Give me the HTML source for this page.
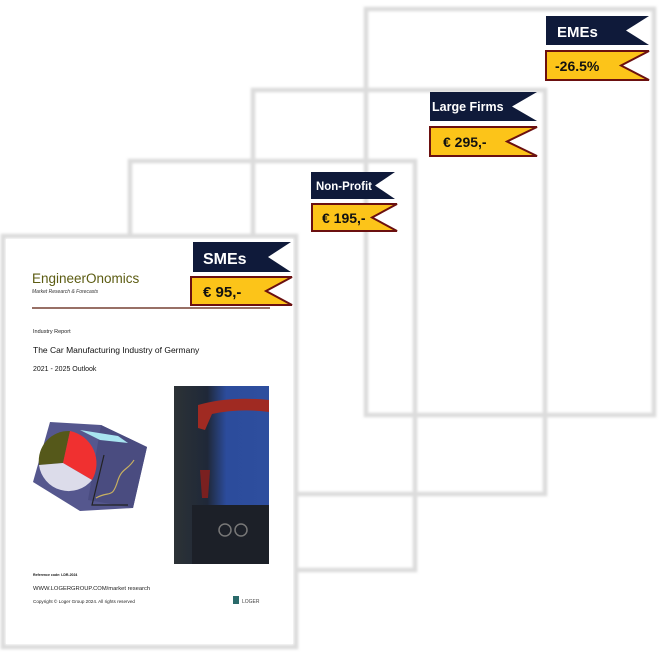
<!DOCTYPE html>
<html><head><meta charset="utf-8"><style>
html,body{margin:0;padding:0;background:#fff;}
svg{display:block;font-family:"Liberation Sans",sans-serif;}
</style></head><body>
<svg width="659" height="653" viewBox="0 0 659 653" xmlns="http://www.w3.org/2000/svg">
<defs>
<filter id="b" x="-5%" y="-5%" width="110%" height="110%"><feGaussianBlur stdDeviation="1.2"/></filter>
<linearGradient id="c" x1="0" y1="0" x2="1" y2="0"><stop offset="0" stop-color="#2c3236"/><stop offset="0.35" stop-color="#1f2838"/><stop offset="0.55" stop-color="#2c4c9c"/><stop offset="1" stop-color="#2e4e9e"/></linearGradient>
</defs>
<g fill="none" stroke="#dcdcdc" stroke-width="4.5" filter="url(#b)">
<rect x="366" y="9" width="288" height="406"/>
<rect x="253" y="90" width="292" height="404"/>
<rect x="130" y="161" width="285" height="409"/>
</g>
<rect x="3" y="236" width="293" height="411" fill="#fff" stroke="#dcdcdc" stroke-width="4.5" filter="url(#b)"/>
<rect x="6" y="239" width="287" height="405" fill="#fff"/>

<g font-weight="bold">
<polygon points="546,16 649,16 626,30.5 649,45 546,45" fill="#0f1a3a"/>
<text x="557" y="37" fill="#fff" font-size="15">EMEs</text>
<polygon points="546,51 649,51 621,65.5 649,80 546,80" fill="#fcc419" stroke="#6b1010" stroke-width="2"/>
<text x="555" y="71" fill="#111" font-size="14">-26.5%</text>

<polygon points="430,92 537,92 512,106.5 537,121 430,121" fill="#0f1a3a"/>
<text x="432" y="111" fill="#fff" font-size="12.5">Large Firms</text>
<polygon points="430,127 537,127 507,141.5 537,156 430,156" fill="#fcc419" stroke="#6b1010" stroke-width="2"/>
<text x="443" y="147" fill="#111" font-size="14">€ 295,-</text>

<polygon points="311,172 395,172 375,185.5 395,199 311,199" fill="#0f1a3a"/>
<text x="316" y="190" fill="#fff" font-size="11.5" textLength="56" lengthAdjust="spacingAndGlyphs">Non-Profit</text>
<polygon points="312,204 397,204 372,217.5 397,231 312,231" fill="#fcc419" stroke="#6b1010" stroke-width="2"/>
<text x="322" y="223" fill="#111" font-size="14">€ 195,-</text>

<polygon points="193,242 291,242 268,257 291,272 193,272" fill="#0f1a3a"/>
<text x="203" y="264" fill="#fff" font-size="16">SMEs</text>
<polygon points="191,277 292,277 266,291 292,305 191,305" fill="#fcc419" stroke="#6b1010" stroke-width="2"/>
<text x="203" y="297" fill="#111" font-size="15">€ 95,-</text>
</g>

<text x="32" y="283" fill="#5c5c12" font-size="13.5">EngineerOnomics</text>
<text x="32" y="293" fill="#333" font-size="5" font-style="italic">Market Research &amp; Forecasts</text>
<line x1="32" y1="308" x2="270" y2="308" stroke="#5a1a0a" stroke-width="1.2"/>
<text x="33" y="333" fill="#222" font-size="5.5">Industry Report</text>
<text x="33" y="353" fill="#111" font-size="8.5">The Car Manufacturing Industry of Germany</text>
<text x="33" y="371" fill="#111" font-size="7">2021 - 2025 Outlook</text>

<polygon points="50,422 101,425 147,447 133,508 80,511 33,482" fill="#55578e"/>
<polygon points="101,425 147,447 133,508 88,500" fill="#4a4c80"/>
<path d="M70,431 L63,463 L39,465 A30,30 0 0 1 70,431Z" fill="#55581a"/>
<path d="M70,431 A33,33 0 0 1 92,480 L63,463Z" fill="#f03030"/>
<path d="M39,465 L63,463 L92,480 A30,30 0 0 1 39,465Z" fill="#dcdcea"/>
<polygon points="80,430 118,436 128,443 100,440" fill="#a8e4f0"/>
<path d="M96,498 C110,490 112,500 118,480 C122,468 128,470 134,460" stroke="#c8b060" fill="none" stroke-width="1.2"/>
<path d="M104,455 L92,505 L128,505" stroke="#222" fill="none" stroke-width="1.2"/>

<rect x="174" y="386" width="95" height="178" fill="url(#c)"/>
<path d="M198,405 Q230,396 269,400 L269,412 Q240,408 212,414 L205,430 L198,428Z" fill="#a02a22"/>
<path d="M200,470 L210,470 L208,498 L202,498Z" fill="#7a2020"/>
<rect x="192" y="505" width="77" height="59" fill="#1c2028"/>
<circle cx="225" cy="530" r="6" fill="none" stroke="#777" stroke-width="1.5"/>
<circle cx="241" cy="530" r="6" fill="none" stroke="#777" stroke-width="1.5"/>

<text x="33" y="576" fill="#111" font-size="3.5" font-weight="bold">Reference code: LDR-2024</text>
<text x="33" y="590" fill="#222" font-size="5.8">WWW.LOGERGROUP.COM/market research</text>
<text x="33" y="603" fill="#222" font-size="4.6">Copyright © Loger Group 2024. All rights reserved</text>
<rect x="233" y="596" width="6" height="8" fill="#2a6a6a"/>
<text x="242" y="603" fill="#444" font-size="5">LOGER</text>
</svg>
</body></html>
